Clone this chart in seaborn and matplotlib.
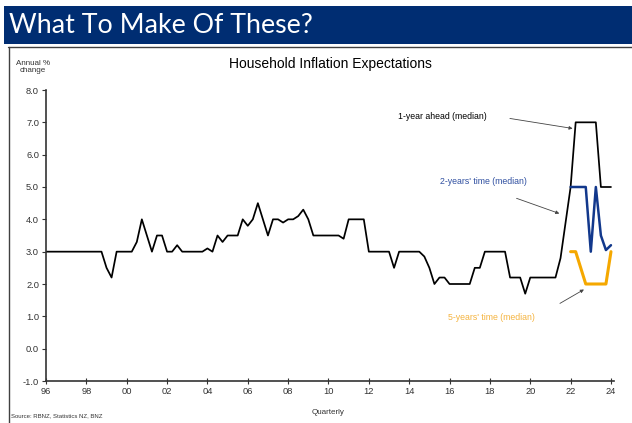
import numpy as np
import pandas as pd
import matplotlib
matplotlib.use("Agg")
import matplotlib.pyplot as plt
from matplotlib.lines import Line2D
from matplotlib.patches import Rectangle
import seaborn as sns

# Household survey: median expected annual inflation (%), quarterly from 1996 Q1
start_year = 1996
one_year_ahead = [
    3.0, 3.0, 3.0, 3.0, 3.0, 3.0, 3.0, 3.0, 3.0, 3.0, 3.0, 3.0,   # 1996-1998
    2.5, 2.2, 3.0, 3.0,                                           # 1999
    3.0, 3.0, 3.3, 4.0,                                           # 2000
    3.5, 3.0, 3.5, 3.5,                                           # 2001
    3.0, 3.0, 3.2, 3.0,                                           # 2002
    3.0, 3.0, 3.0, 3.0,                                           # 2003
    3.1, 3.0, 3.5, 3.3,                                           # 2004
    3.5, 3.5, 3.5, 4.0,                                           # 2005
    3.8, 4.0, 4.5, 4.0,                                           # 2006
    3.5, 4.0, 4.0, 3.9,                                           # 2007
    4.0, 4.0, 4.1, 4.3,                                           # 2008
    4.0, 3.5, 3.5, 3.5,                                           # 2009
    3.5, 3.5, 3.5, 3.4,                                           # 2010
    4.0, 4.0, 4.0, 4.0,                                           # 2011
    3.0, 3.0, 3.0, 3.0,                                           # 2012
    3.0, 2.5, 3.0, 3.0,                                           # 2013
    3.0, 3.0, 3.0, 2.85,                                          # 2014
    2.5, 2.0, 2.2, 2.2,                                           # 2015
    2.0, 2.0, 2.0, 2.0,                                           # 2016
    2.0, 2.5, 2.5, 3.0,                                           # 2017
    3.0, 3.0, 3.0, 3.0,                                           # 2018
    2.2, 2.2, 2.2, 1.7,                                           # 2019
    2.2, 2.2, 2.2, 2.2,                                           # 2020
    2.2, 2.2, 2.8, 3.9,                                           # 2021
    5.0, 7.0, 7.0, 7.0,                                           # 2022
    7.0, 7.0, 5.0, 5.0,                                           # 2023
    5.0,                                                          # 2024
]
# Longer-horizon questions start in 2022 Q1
two_years_time = [5.0, 5.0, 5.0, 5.0, 3.0, 5.0, 3.5, 3.05, 3.2]
five_years_time = [3.0, 3.0, 2.5, 2.0, 2.0, 2.0, 2.0, 2.0, 3.0]
new_series_start = 2022

y_ticks = [-1.0, 0.0, 1.0, 2.0, 3.0, 4.0, 5.0, 6.0, 7.0, 8.0]
x_tick_years = list(range(1996, 2025, 2))
x_tick_labels = [f"{y % 100:02d}" for y in x_tick_years]

quarters = start_year + 0.25 * np.arange(len(one_year_ahead))
df1 = pd.DataFrame({"t": quarters, "v": one_year_ahead})
q_new = new_series_start + 0.25 * np.arange(len(two_years_time))
df2 = pd.DataFrame({"t": q_new, "v": two_years_time})
df5 = pd.DataFrame({"t": q_new, "v": five_years_time})

sns.set_theme(style="white")
plt.rcParams["font.family"] = ["Liberation Sans", "DejaVu Sans"]

W, H = 632, 423
fig = plt.figure(figsize=(W / 100, H / 100), dpi=100)
fig.patch.set_facecolor("white")

def fx(px):
    return px / W

def fy(py):
    return 1 - py / H

# Slide banner
fig.add_artist(Rectangle((fx(4), fy(44)), fx(628), 38 / H, transform=fig.transFigure,
                         facecolor="#002D72", edgecolor="none"))
fig.text(fx(9), fy(25.5), "What To Make Of These?", color="white", fontsize=19.3,
         family=["Lato", "DejaVu Sans"], va="center", ha="left")
# Panel frame
fig.add_artist(Line2D([fx(8), fx(632)], [fy(47.5), fy(47.5)], transform=fig.transFigure,
                      color="#404040", lw=1.0))
fig.add_artist(Line2D([fx(8.5), fx(8.5)], [fy(47.5), fy(423)], transform=fig.transFigure,
                      color="#404040", lw=1.0))

ax = fig.add_axes([fx(46), fy(381), fx(614) - fx(46), (381 - 90) / H])
ax.set_facecolor("none")

sns.lineplot(data=df1, x="t", y="v", ax=ax, color="black", lw=1.25)
sns.lineplot(data=df2, x="t", y="v", ax=ax, color="#12388C", lw=1.8)
sns.lineplot(data=df5, x="t", y="v", ax=ax, color="#F5A800", lw=2.2)

ax.set_xlim(1996, 2024.15)
ax.set_ylim(-1.0, 8.0)
ax.set_yticks(y_ticks)
ax.set_yticklabels([f"{v:.1f}" for v in y_ticks])
ax.set_xticks(x_tick_years)
ax.set_xticklabels(x_tick_labels)
ax.set_xlabel("")
ax.set_ylabel("")
for s in ["top", "right"]:
    ax.spines[s].set_visible(False)
for s in ["left", "bottom"]:
    ax.spines[s].set_color("#333333")
    ax.spines[s].set_linewidth(1.2)
ax.tick_params(axis="y", direction="out", length=3, width=0.8, color="#333333",
               labelsize=6.7, labelcolor="#333333", pad=2, left=True)
ax.tick_params(axis="x", direction="inout", length=4, width=0.8, color="#333333",
               labelsize=6.7, labelcolor="#333333", pad=2, bottom=True)

ax.set_title("Household Inflation Expectations", fontsize=10, color="black", pad=0,
             y=(381 - 64) / (381 - 90), va="center")

fig.text(fx(33), fy(67), "Annual %\nchange", fontsize=5.8, color="#333333",
         ha="center", va="center", linespacing=1.1)
fig.text(fx(328), fy(412), "Quarterly", fontsize=5.8, color="#333333",
         ha="center", va="center")
fig.text(fx(11), fy(416), "Source: RBNZ, Statistics NZ, BNZ", fontsize=4.3,
         color="#333333", ha="left", va="center")

arrow = dict(arrowstyle="-|>", color="#444444", lw=0.6, mutation_scale=5,
             shrinkA=0, shrinkB=0)
ax.text(2013.43, 7.19, "1-year ahead (median)", fontsize=6.3, color="black",
        ha="left", va="center")
ax.annotate("", xy=(2022.10, 6.81), xytext=(2018.99, 7.12), arrowprops=arrow)
ax.text(2015.51, 5.16, "2-years' time (median)", fontsize=6.3, color="#2F4FA0",
        ha="left", va="center")
ax.annotate("", xy=(2021.44, 4.18), xytext=(2019.32, 4.65), arrowprops=arrow)
ax.text(2015.9, 0.95, "5-years' time (median)", fontsize=6.3, color="#F5B440",
        ha="left", va="center")
ax.annotate("", xy=(2022.66, 1.83), xytext=(2021.47, 1.40), arrowprops=arrow)

fig.savefig("out.png", dpi=100, facecolor="white")
